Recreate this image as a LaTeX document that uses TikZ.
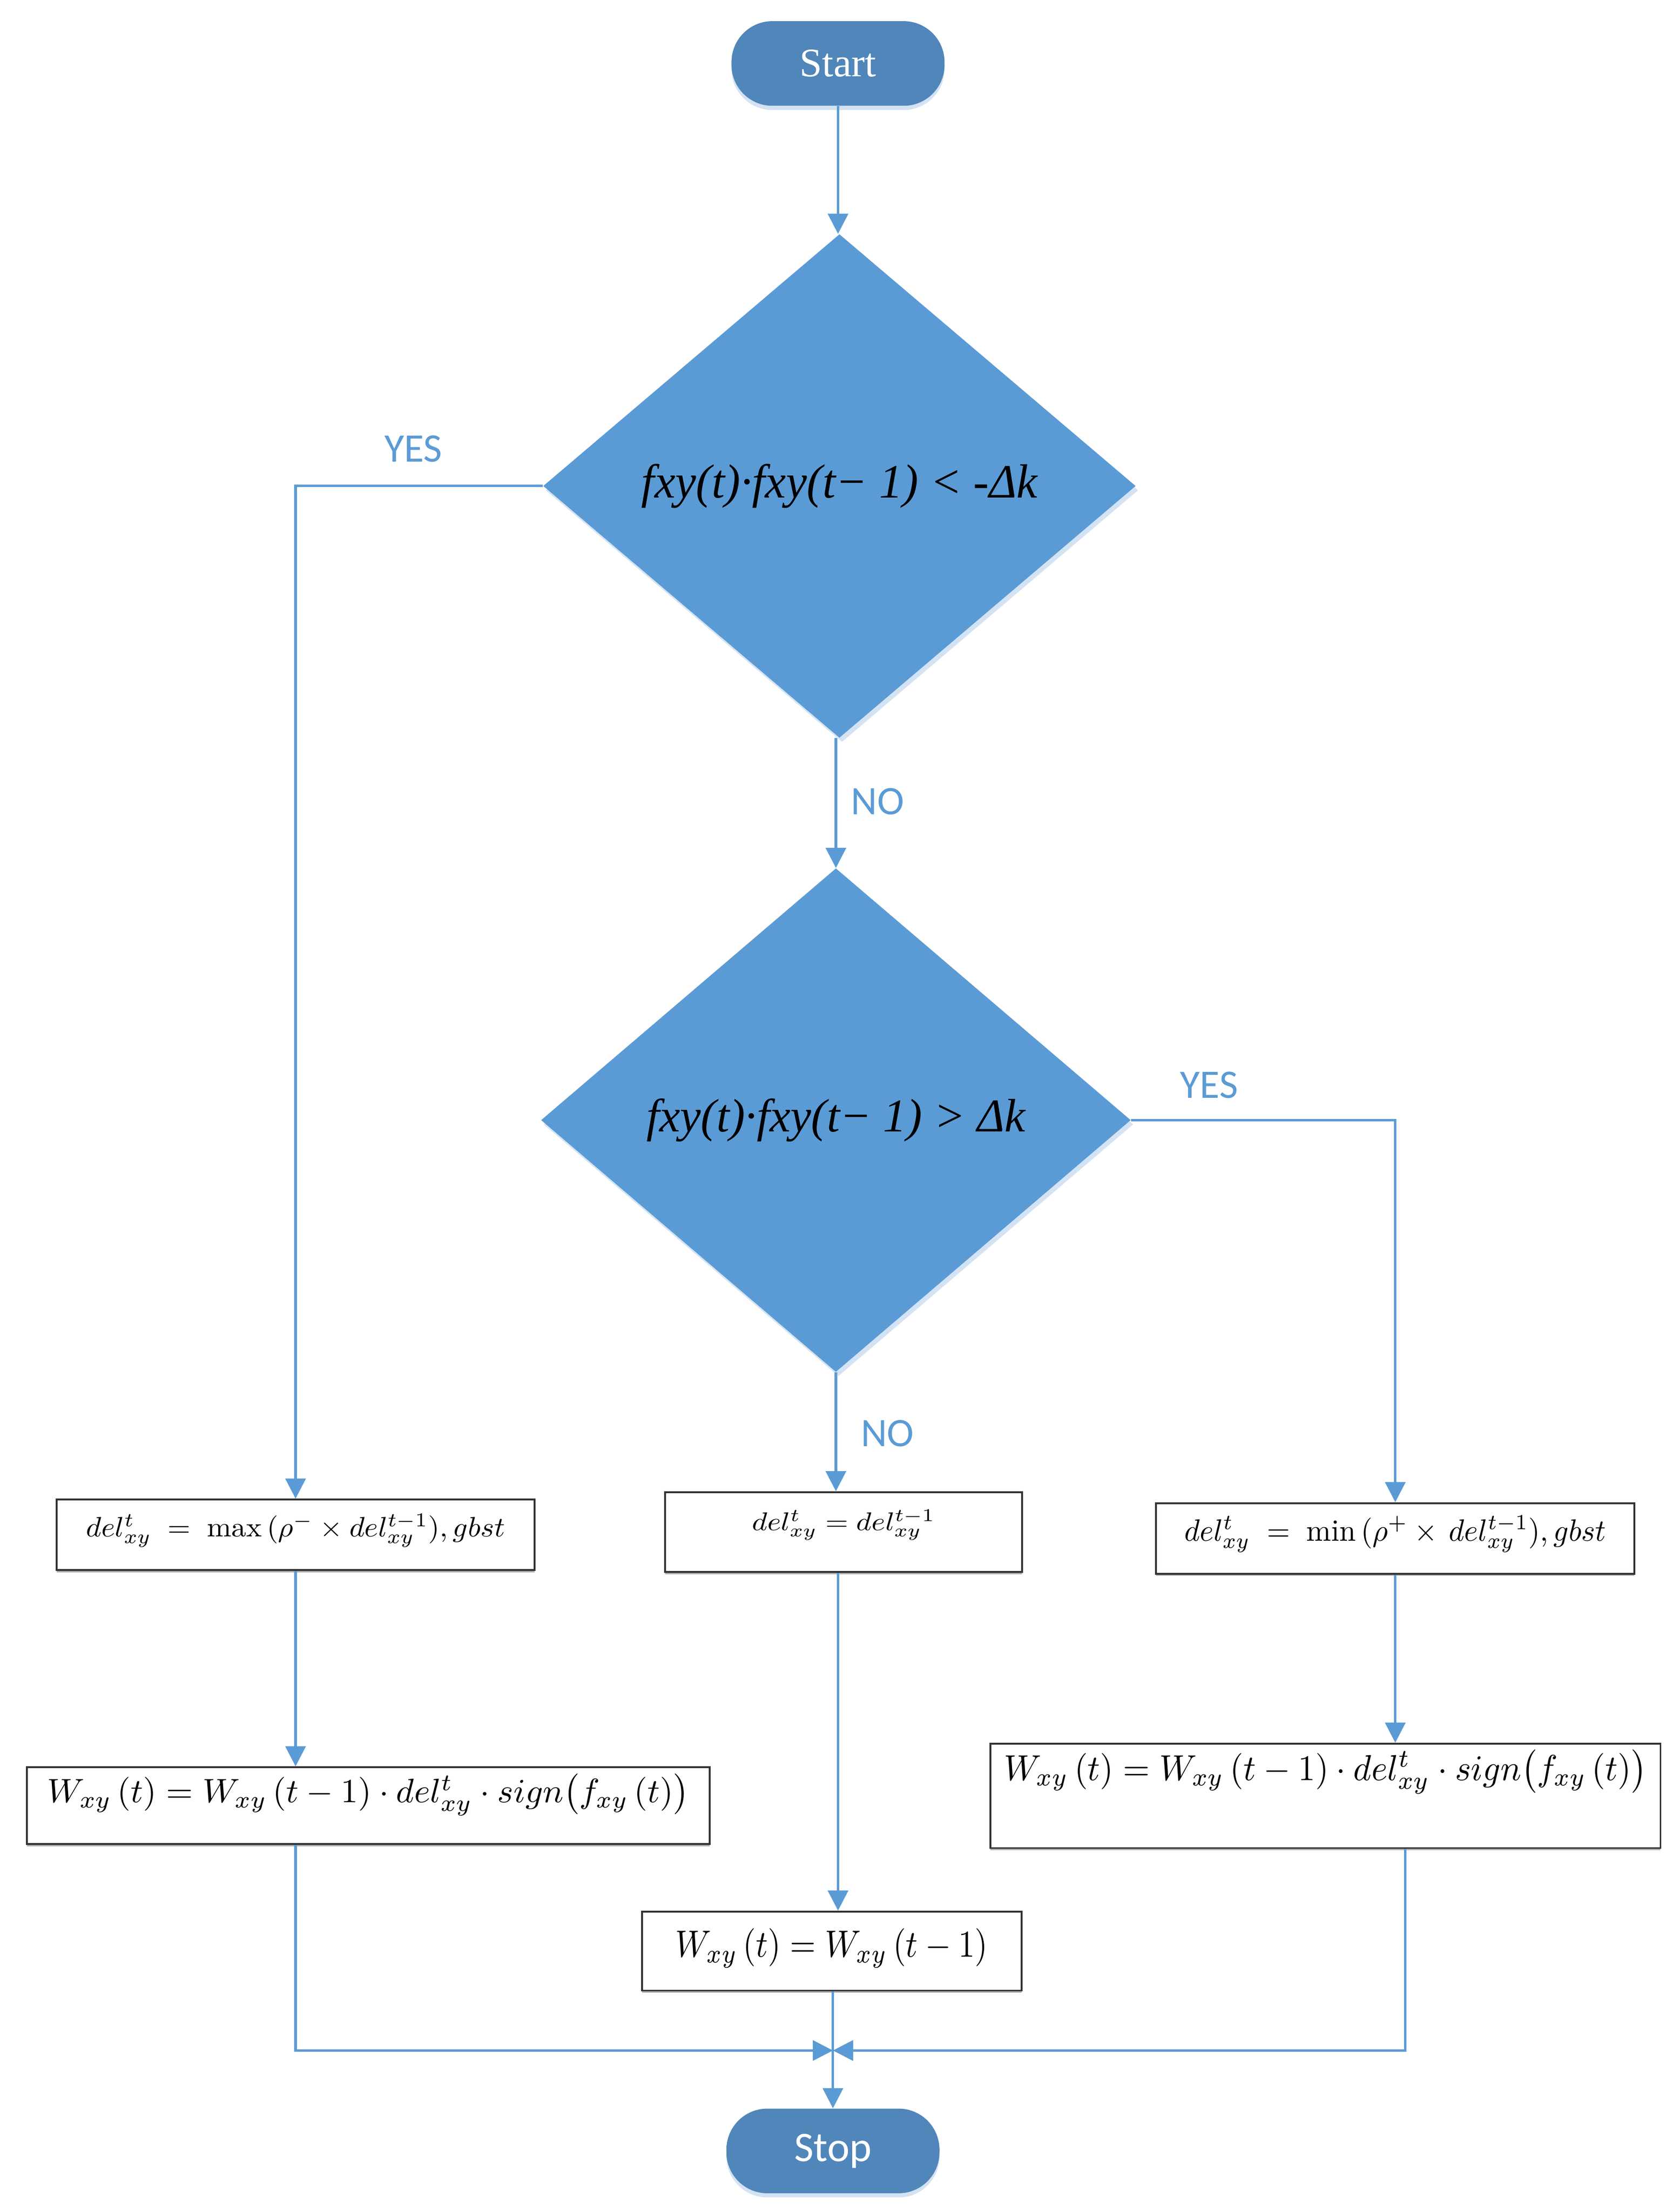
\documentclass[tikz,border=0pt]{standalone}
\usepackage{fontspec}
\usepackage{graphicx}
\usetikzlibrary{shapes.geometric,arrows.meta,calc,shadows}
\newfontfamily\tnr{Liberation Serif}
\newfontfamily\calib{Carlito}
\definecolor{flowblue}{RGB}{91,155,213}
\definecolor{termblue}{RGB}{80,134,185}
\definecolor{glow}{RGB}{200,220,240}
\def\U{0.0294cm}
\begin{document}
\begin{tikzpicture}[x=0.0294cm,y=-0.0294cm,
  term/.style={rectangle, rounded corners=29*\U, fill=termblue, text=white, inner sep=0pt,
    minimum width=151*\U, minimum height=60*\U,
    drop shadow={shadow xshift=0pt, shadow yshift=-2.5pt, fill=glow, opacity=0.8}},
  decision/.style={diamond, fill=flowblue, inner sep=0pt, minimum height=357*\U,
    drop shadow={shadow xshift=1.5pt, shadow yshift=-2.5pt, fill=glow, opacity=0.8}},
  procbox/.style={rectangle, draw=black!80, line width=1.1pt, fill=white, inner sep=0pt,
    drop shadow={shadow xshift=0pt, shadow yshift=-1.3pt, fill=black!45, opacity=0.7}},
  conn/.style={draw=flowblue, line width=1.5pt, -{Triangle[length=0.42cm,width=0.42cm]}},
  lab/.style={text=flowblue, font=\calib\fontsize{24pt}{28pt}\selectfont, inner sep=0pt}
]
\fill[white] (0,0) rectangle (1190,1568);
\useasboundingbox (0,0) rectangle (1190,1568);

% terminals
\node[term, font=\tnr\fontsize{24pt}{28pt}\selectfont] (start) at (594,45) {Start};
\node[term, font=\calib\fontsize{25pt}{28pt}\selectfont] (stop) at (590.4,1524.7) {Stop};

% decisions
\node[decision, minimum width=420*\U] (d1) at (595,344.5)
  {\resizebox*{8.25cm}{0.92cm}{\tnr\itshape fxy(t)·fxy(t− 1) < -Δk}};
\node[decision, minimum width=418*\U] (d2) at (592.5,794)
  {\resizebox*{7.9cm}{0.9cm}{\tnr\itshape fxy(t)·fxy(t− 1) > Δk}};

% process boxes
\node[procbox, minimum width=339*\U, minimum height=50*\U] (b1) at (209.5,1088)
  {\raisebox{0.09cm}[\height][\depth]{\resizebox*{8.73cm}{0.70cm}{$del^{t}_{xy} \;=\; \max\,(\rho^{-}\times del^{t-1}_{xy}), gbst$}}};
\node[procbox, minimum width=253*\U, minimum height=56.5*\U] (b2) at (598,1086)
  {\raisebox{0.15cm}[\height][\depth]{\resizebox*{3.82cm}{0.64cm}{$del^{t}_{xy} = del^{t-1}_{xy}$}}};
\node[procbox, minimum width=339*\U, minimum height=50*\U] (b3) at (989,1090.5)
  {\raisebox{0.09cm}[\height][\depth]{\resizebox*{8.79cm}{0.77cm}{$del^{t}_{xy} \;=\; \min\,(\rho^{+}\times\, del^{t-1}_{xy}), gbst$}}};
\node[procbox, minimum width=484*\U, minimum height=54.5*\U] (b4) at (261,1280)
  {\raisebox{0.23cm}[\height][\depth]{\resizebox*{13.38cm}{0.87cm}{$W_{xy}\,(t) = W_{xy}\,(t-1)\cdot del^{t}_{xy}\cdot sign\bigl(f_{xy}\,(t)\bigr)$}}};
\node[procbox, minimum width=269*\U, minimum height=56*\U] (b5) at (589.5,1383)
  {\raisebox{0.06cm}[\height][\depth]{\resizebox*{6.51cm}{0.82cm}{$W_{xy}\,(t) = W_{xy}\,(t-1)$}}};
\node[procbox, minimum width=475*\U, minimum height=74*\U] (b6) at (939.5,1273)
  {\raisebox{0.5cm}[\height][\depth]{\resizebox*{13.4cm}{0.93cm}{$W_{xy}\,(t) = W_{xy}\,(t-1)\cdot del^{t}_{xy}\cdot sign\bigl(f_{xy}\,(t)\bigr)$}}};

% labels
\node[lab] (yes1) at (293,318) {YES};
\node[lab] (no1) at (622,568) {NO};
\node[lab] (yes2) at (857,769) {YES};
\node[lab] (no2) at (629,1016) {NO};

% merge coordinates
\coordinate (m) at (590.4,1453.5);
\coordinate (r) at (996,1453.5);

% connectors
\draw[conn] (start.south) -- (start.south |- d1.north);
\draw[conn] (d1.west) -| (b1.north);
\draw[conn] (d1.south -| d2.north) -- (d2.north);
\draw[conn] (d2.east) -| (b3.north);
\draw[conn] (d2.south) -- (d2.south |- b2.north);
\draw[conn] (b1.south) -- (b1.south |- b4.north);
\draw[conn] (b3.south) -- (b3.south |- b6.north);
\draw[conn] ([xshift=-4*\U]b2.south) -- ([xshift=-4*\U]b2.south |- b5.north);
\draw[conn] (b4.south -| b1.south) |- (m);
\draw[conn] (b6.south -| r) -- (r) -- (m);
\draw[conn] (b5.south -| stop.north) -- (stop.north);
\end{tikzpicture}
\end{document}
